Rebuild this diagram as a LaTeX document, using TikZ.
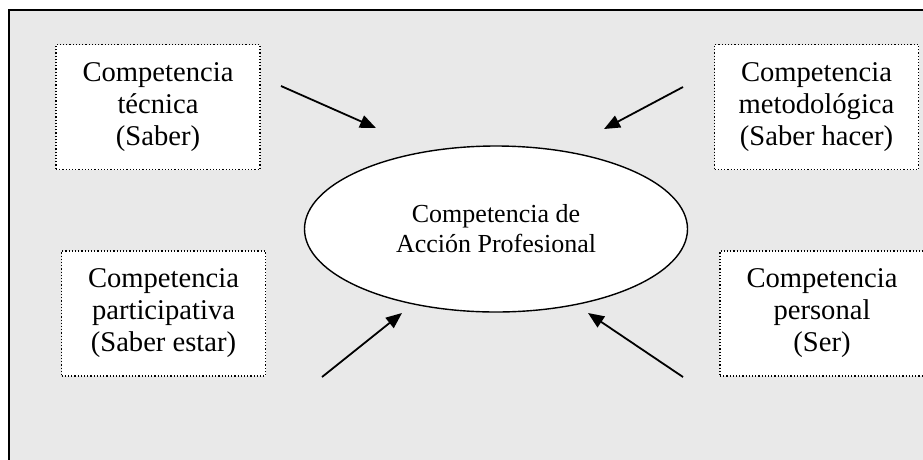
\documentclass[tikz,border=0pt]{standalone}
\usepackage{fontspec}
\setmainfont{Liberation Serif}
\usetikzlibrary{shapes.geometric,arrows.meta}
\definecolor{fondo}{HTML}{E9E9E9}

\tikzset{
  compbox/.style={draw, dotted, line width=1.2pt, fill=white, align=center,
    minimum width=204pt, minimum height=125pt, inner sep=0pt,
    font=\fontsize{28.6}{32}\selectfont},
  flecha/.style={line width=1.8pt, -{Triangle[length=16pt,width=13pt]}}
}

\begin{document}
\begin{tikzpicture}[x=1pt,y=-1pt]
    \useasboundingbox (0,0) rectangle (923,459);
    \clip (0,0) rectangle (923,459);

    % marco de fondo
    \draw[fill=fondo, line width=1.5pt] (9,10) rectangle (940,480);

    % elipse central
    \node[ellipse, draw, line width=1.4pt, fill=white, align=center,
          minimum width=383pt, minimum height=166pt, inner sep=0pt,
          font=\fontsize{26}{30}\selectfont] (accion) at (496,229)
          {Competencia de\\Acción Profesional};

    % las cuatro competencias
    \node[compbox] (tecnica) at (158,107) {Competencia\\técnica\\(Saber)};
    \node[compbox] (metodo) at (816.5,107) {Competencia\\metodológica\\(Saber hacer)};
    \node[compbox] (particip) at (163.5,313.5) {Competencia\\participativa\\(Saber estar)};
    \node[compbox] (personal) at (822,313.5) {Competencia\\personal\\(Ser)};

    % flechas hacia el centro
    \coordinate (tecnica-a) at (281,86);
    \coordinate (tecnica-b) at (376,128);
    \coordinate (metodo-a) at (683,87);
    \coordinate (metodo-b) at (604,129);
    \coordinate (particip-a) at (322,377);
    \coordinate (particip-b) at (402,313);
    \coordinate (personal-a) at (683,377);
    \coordinate (personal-b) at (588,313);

    \draw[flecha] (tecnica-a) -- (tecnica-b);
    \draw[flecha] (metodo-a) -- (metodo-b);
    \draw[flecha] (particip-a) -- (particip-b);
    \draw[flecha] (personal-a) -- (personal-b);

\end{tikzpicture}
\end{document}
